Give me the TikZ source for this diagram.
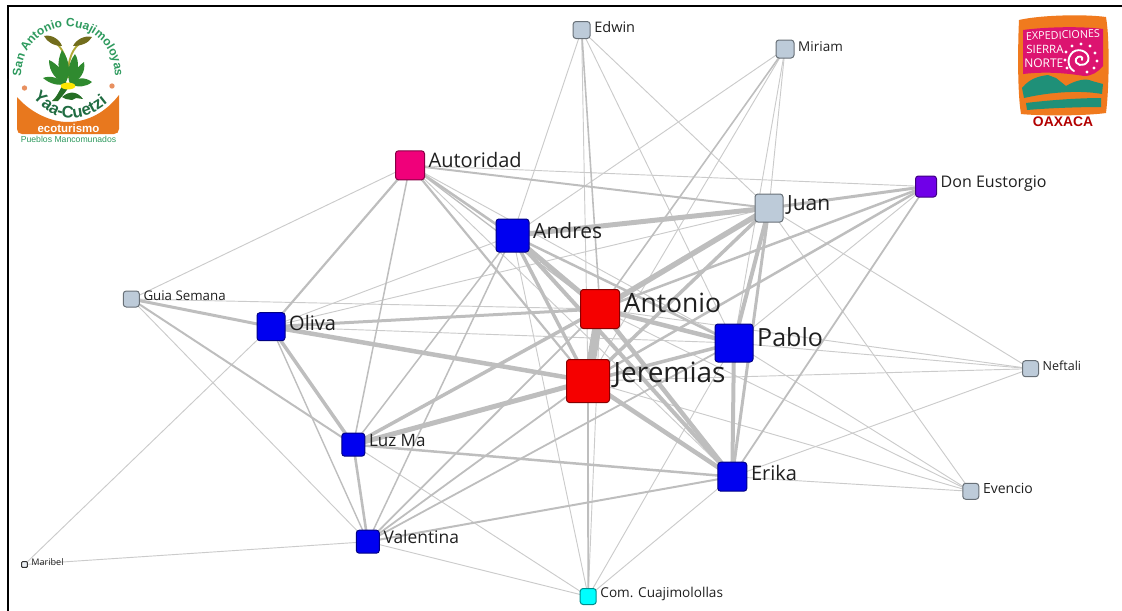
\documentclass[tikz,border=0pt]{standalone}
\usepackage{fontspec}
\setmainfont{Open Sans}
\setsansfont{Liberation Sans}
\usetikzlibrary{backgrounds,decorations.text}
\definecolor{edgegrey}{HTML}{BEBEBE}
\definecolor{edgelight}{HTML}{CBCBCB}
\definecolor{greyn}{HTML}{BDCBD9}
\definecolor{bluen}{HTML}{0000F0}
\definecolor{redn}{HTML}{F50000}
\definecolor{pinkn}{HTML}{F0007A}
\definecolor{purplen}{HTML}{7000E8}
\definecolor{cyann}{HTML}{00FFFF}
\definecolor{logogreen}{HTML}{2E9A5E}
\definecolor{leaf}{HTML}{2F8A2F}
\definecolor{logoorange}{HTML}{E8781E}
\definecolor{blobo}{HTML}{F07A1E}
\definecolor{mag}{HTML}{DC1470}
\definecolor{teal1}{HTML}{1F9078}
\definecolor{dotor}{HTML}{E89060}
\tikzset{
 x=0.75pt,y=-0.75pt,
 vertex/.style={rectangle,rounded corners=2.2pt,line width=0.75pt,inner sep=0pt},
 vlabel/.style={anchor=west,inner sep=0pt,text=black!88},
 link/.style={draw=edgegrey,line cap=butt},
 thinlink/.style={draw=edgelight,line cap=butt,line width=0.7pt},
}
% name, x, y, size, colour, font px, raise px, text
\newcommand{\vnode}[8]{%
 \pgfmathsetmacro{\vfs}{#6*0.75}%
 \node[vertex,minimum size=#4*0.75pt,fill=#5,draw=#5!55!black] (#1) at (#2,#3) {};
 \node[vlabel,font=\fontsize{\vfs pt}{\vfs pt}\selectfont] (#1txt) at ([xshift=2.6pt,yshift=#7*0.75pt]#1.east) {#8};
}
\begin{document}
\begin{tikzpicture}
\useasboundingbox (0,0) rectangle (1122,611);
\vnode{edwin}{581.6}{30}{17}{greyn}{14.5}{3}{Edwin}
\vnode{miriam}{785}{49}{18}{greyn}{13.5}{2}{Miriam}
\vnode{autoridad}{410}{165.3}{29}{pinkn}{20}{5}{Autoridad}
\vnode{don}{926}{186.5}{21}{purplen}{16}{3}{Don Eustorgio}
\vnode{juan}{769}{208}{28}{greyn}{21}{3}{Juan}
\vnode{andres}{512.5}{235.5}{33}{bluen}{21}{5}{Andres}
\vnode{guia}{131.3}{299}{16}{greyn}{13.3}{3}{Guia Semana}
\vnode{oliva}{271}{326.7}{28}{bluen}{20}{4}{Oliva}
\vnode{antonio}{600}{309}{39}{redn}{26.5}{6}{Antonio}
\vnode{pablo}{734}{343}{38}{bluen}{25}{6}{Pablo}
\vnode{jeremias}{588}{381}{43}{redn}{28}{6}{Jeremias}
\vnode{neftali}{1030.5}{368.7}{16}{greyn}{12.5}{3}{Neftali}
\vnode{luz}{353.3}{444.7}{23}{bluen}{17}{4}{Luz Ma}
\vnode{erika}{732.3}{476.7}{29}{bluen}{20}{4}{Erika}
\vnode{evencio}{970.8}{491.3}{16}{greyn}{14}{3}{Evencio}
\vnode{valentina}{367.8}{541.7}{23}{bluen}{17.4}{5}{Valentina}
\node[vertex,rounded corners=0.8pt,minimum size=4.4pt,fill=greyn!30,draw=black!80] (maribel) at (24.5,564.5) {};
\node[vlabel,font=\fontsize{6.8pt}{7pt}\selectfont] (maribeltxt) at ([xshift=2.4pt,yshift=1.5pt]maribel.east) {Maribel};
\vnode{com}{588.2}{596.5}{16}{cyann}{13.6}{3}{Com. Cuajimolollas}
\begin{scope}[on background layer]
\foreach \a/\b in {
 edwin/andres,edwin/jeremias,edwin/pablo,edwin/juan,miriam/andres,miriam/juan,miriam/pablo,miriam/jeremias,
 autoridad/guia,autoridad/don,autoridad/pablo,autoridad/erika,oliva/andres,oliva/juan,oliva/pablo,oliva/maribel,
 guia/antonio,guia/valentina,luz/com,valentina/com,valentina/maribel,andres/com,antonio/com,pablo/com,erika/com,
 antonio/neftali,pablo/neftali,jeremias/neftali,erika/neftali,juan/neftali,erika/evencio,jeremias/evencio,pablo/evencio,antonio/evencio,juan/evencio,don/pablo}
 { \draw[thinlink] (\a.center) -- (\b.center); }
\foreach \a/\b/\w in {
 edwin/antonio/1.6,miriam/antonio/1.6,autoridad/luz/1.5,autoridad/oliva/2.2,autoridad/andres/2.6,autoridad/jeremias/2.2,autoridad/juan/2,autoridad/antonio/1.3,andres/luz/1.5,andres/valentina/1.5,guia/luz/2,oliva/valentina/1.4,
 valentina/antonio/1.8,valentina/jeremias/1.8,valentina/pablo/1.8,valentina/erika/2,luz/erika/2.5,luz/valentina/2.6,jeremias/com/1.8,don/antonio/2.5,don/jeremias/2.5,don/erika/1.8,don/juan/3,andres/pablo/2.5,
 guia/oliva/3,oliva/antonio/3,oliva/jeremias/4.5,oliva/luz/3.5,luz/antonio/3.5,luz/jeremias/5,andres/juan/5,andres/antonio/5,andres/jeremias/3.5,andres/erika/4,antonio/juan/5.5,jeremias/juan/3.5,antonio/pablo/4.5,jeremias/pablo/3.5,antonio/erika/4.5,jeremias/erika/4.5,juan/pablo/4,juan/erika/3,pablo/erika/4,antonio/jeremias/9}
 { \draw[link,line width=\w*0.75pt] (\a.center) -- (\b.center); }
\end{scope}
% frame
\draw[black,line width=1.6pt] (8,611) -- (8,6) -- (1122,6);
% left logo
\begin{scope}
\path[decorate,decoration={text along path,text align=center,text={|\sffamily\bfseries\fontsize{9}{10}\selectfont\color{logogreen}|San Antonio Cuajimoloyas}}]
 (21,78) .. controls (21,45) and (44,27) .. (68,27) .. controls (92,27) and (115,45) .. (115,78);
\fill[dotor] (24.5,88) circle (2pt);
\fill[dotor] (112,86) circle (2pt);
% stalks
\draw[olive!70!white,line width=1.4pt] (68,78) .. controls (67,58) and (64,48) .. (52,40);
\draw[olive!70!white,line width=1.4pt] (68,78) .. controls (68,58) and (72,48) .. (84,40);
\fill[olive!75!black] (44,36) .. controls (52,34) and (60,40) .. (62,46) .. controls (54,46) and (47,42) .. (44,36) -- cycle;
\fill[olive!75!black] (92,37) .. controls (84,35) and (76,40) .. (73,46) .. controls (81,46) and (89,43) .. (92,37) -- cycle;
% leaves
\fill[leaf] (62,50) .. controls (56,62) and (58,76) .. (65,84) .. controls (71,74) and (70,60) .. (62,50) -- cycle;
\fill[leaf] (49,60) .. controls (49,72) and (56,80) .. (66,84) .. controls (66,74) and (58,64) .. (49,60) -- cycle;
\fill[leaf] (75,54) .. controls (80,62) and (79,74) .. (70,84) .. controls (66,74) and (69,62) .. (75,54) -- cycle;
\fill[leaf] (84,62) .. controls (86,72) and (80,80) .. (70,85) .. controls (70,76) and (76,68) .. (84,62) -- cycle;
\fill[leaf] (43,78) .. controls (50,75) and (60,78) .. (66,84) .. controls (58,86) and (50,84) .. (43,78) -- cycle;
\fill[leaf] (92,82) .. controls (84,76) and (76,78) .. (70,84) .. controls (78,88) and (86,87) .. (92,82) -- cycle;
\fill[leaf!80!black] (64,82) .. controls (60,90) and (56,98) .. (52,101) -- (58,101) .. controls (62,96) and (68,90) .. (70,84) -- cycle;
\fill[yellow!90!orange] (68,86) ellipse (5.5pt and 2.6pt);
\fill[leaf!80!black] (62,97) .. controls (70,90) and (78,92) .. (83,99) -- (76,98) -- (72,100) -- (66,99) -- cycle;
% orange band
\fill[logoorange] (17,97) .. controls (30,112) and (50,122) .. (68,122) .. controls (88,122) and (106,112) .. (119,95)
 -- (119,129) .. controls (119,132) and (117,134) .. (114,134) -- (22,134) .. controls (19,134) and (17,132) .. (17,129) -- cycle;
\path[decorate,decoration={text along path,text align=center,text={|\sffamily\bfseries\fontsize{12.5}{14}\selectfont\color{logogreen!70!black}|Yaa-Cuetzi}}]
 (26,90) .. controls (42,109) and (55,118) .. (70,118) .. controls (85,118) and (101,111) .. (115,96);
\node[inner sep=0pt,text=white,font=\sffamily\bfseries\fontsize{8.6}{9}\selectfont] (ecot) at (68.5,128) {ecoturismo};
\node[inner sep=0pt,text=logogreen,font=\sffamily\fontsize{6.5}{7}\selectfont] (pueb) at (68.5,139) {Pueblos Mancomunados};
\end{scope}
% right logo
\begin{scope}
\fill[blobo] (1019,20) .. controls (1040,15) and (1085,14) .. (1106,17) .. controls (1110,40) and (1109,90) .. (1106,113) .. controls (1085,116) and (1040,116) .. (1021,114) .. controls (1017,90) and (1018,40) .. (1019,20) -- cycle;
\fill[mag] (1023,30) .. controls (1045,27) and (1080,26) .. (1103,29) -- (1103,66) .. controls (1098,72) and (1092,76) .. (1084,76) .. controls (1060,72) and (1040,72) .. (1023,74) -- cycle;
\fill[teal1] (1022,88) .. controls (1030,78) and (1040,76) .. (1048,75) -- (1056,78) -- (1066,86) .. controls (1076,80) and (1086,78) .. (1092,81) -- (1103,84) -- (1102,94) .. controls (1080,90) and (1050,92) .. (1024,98) -- cycle;
\fill[teal1] (1026,103) .. controls (1050,100) and (1080,98) .. (1101,98) -- (1101,107) .. controls (1080,107) and (1050,108) .. (1027,110) -- cycle;
\node[inner sep=0pt,text=white,rotate=2,font=\fontsize{8.1}{10}\selectfont] (expd) at (1063,35) {EXPEDICIONES};
\node[inner sep=0pt,text=white,anchor=west,font=\fontsize{8.6}{10}\selectfont] (sierr) at (1026,49) {SIERRA};
\node[inner sep=0pt,text=white,anchor=west,font=\fontsize{9}{11}\selectfont] (nort) at (1024,63) {NORTE};
\draw[white,line width=1.4pt,line cap=round] (1082,60) .. controls (1084,56) and (1078,55) .. (1076,59) .. controls (1074,65) and (1084,68) .. (1088,61) .. controls (1091,53) and (1080,47) .. (1073,52) .. controls (1066,58) and (1068,68) .. (1074,71);
\foreach \p/\q in {1066/52,1065/60,1067/68,1072/46,1081/44,1090/46,1095/53,1097/61,1094/68,1087/72}
 { \fill[white] (\p,\q) circle (1.2pt); }
\node[inner sep=0pt,text=red!70!black,font=\sffamily\bfseries\fontsize{10.4}{11}\selectfont] (oax) at (1063,122) {OAXACA};
\end{scope}
\end{tikzpicture}
\end{document}
